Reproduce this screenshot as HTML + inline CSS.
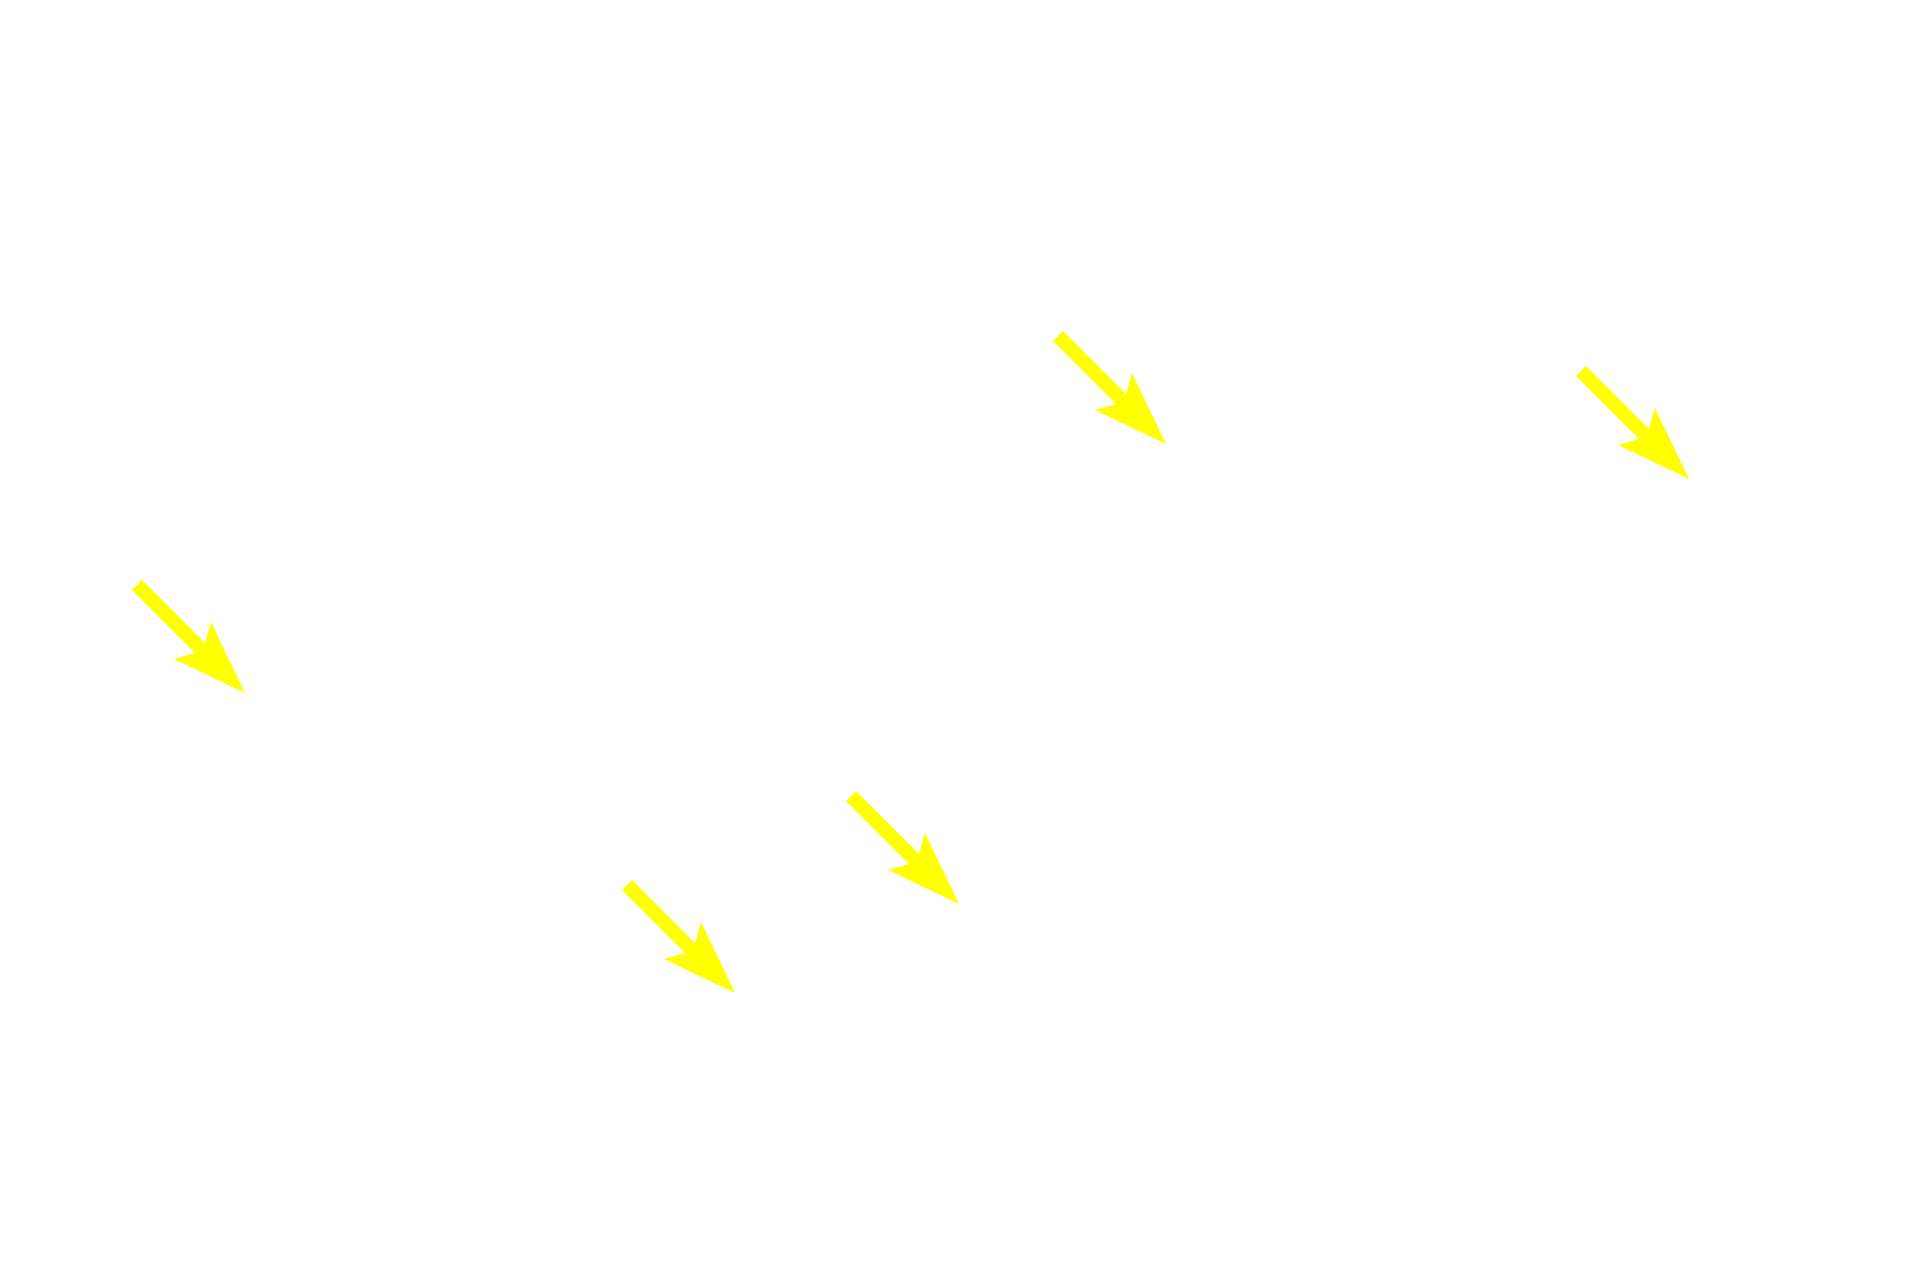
<!DOCTYPE html>
<html><head><style>html,body{margin:0;padding:0;background:#fff;}svg{display:block;}</style></head>
<body>
<svg width="1920" height="1280" viewBox="0 0 1920 1280" xmlns="http://www.w3.org/2000/svg">
<defs>
<polygon id="a" fill="#ffff00" points="-113,-103 -50,-40 -71,-34 0,0 -34,-71 -40,-50 -103,-113"/>
</defs>
<use href="#a" x="245" y="693"/>
<use href="#a" x="1166" y="444"/>
<use href="#a" x="1689" y="479"/>
<use href="#a" x="959" y="904"/>
<use href="#a" x="735" y="993"/>
</svg>
</body></html>
